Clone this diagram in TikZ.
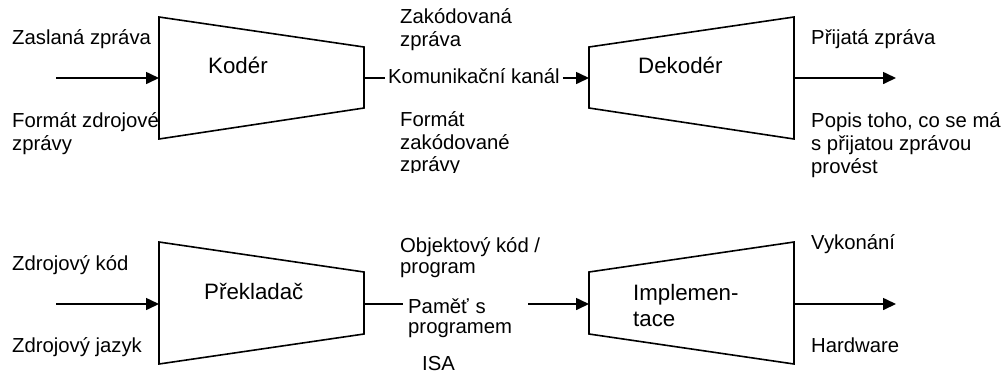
\documentclass[tikz,border=0pt]{standalone}
\usepackage{fontspec}
\setmainfont{Liberation Sans}
\usetikzlibrary{arrows.meta}
\begin{document}
\begin{tikzpicture}[x=1pt,y=-1pt,
  every node/.style={inner sep=0pt,font=\fontsize{20.3}{23}\selectfont},
  lbl/.style={anchor=base west},
  blk/.style={anchor=base west,font=\fontsize{22.3}{27}\selectfont},
  trap/.style={draw=black,line width=1.6pt,line join=miter},
  conn/.style={draw=black,line width=1.6pt},
  arr/.style={conn,-{Triangle[length=13pt,width=12pt]}}]
\useasboundingbox (0,0) rectangle (1003,376);
% ---------- top row ----------
\coordinate (k1) at (159,17); \coordinate (k2) at (364,47);
\coordinate (k3) at (364,108); \coordinate (k4) at (159,139);
\coordinate (kl) at (159,78); \coordinate (kr) at (364,78);
\draw[trap] (k1) -- (k2) -- (k3) -- (k4) -- cycle;
\coordinate (d1) at (589,47); \coordinate (d2) at (794,17);
\coordinate (d3) at (794,139); \coordinate (d4) at (589,108);
\coordinate (dl) at (589,78); \coordinate (dr) at (794,78);
\draw[trap] (d1) -- (d2) -- (d3) -- (d4) -- cycle;
\coordinate (kin) at (56,78); \coordinate (dout) at (896,78);
\node[blk] (koder) at (208,73) {Kodér};
\node[blk] (dekoder) at (638,73) {Dekodér};
\node[lbl] (zasl) at (12,44) {Zaslaná zpráva};
\node[lbl] (fz1) at (12,127) {Formát zdrojové};
\node[lbl] (fz2) at (12,150) {zprávy};
\node[lbl] (zak1) at (400,23) {Zakódovaná};
\node[lbl] (zak2) at (400,46) {zpráva};
\node[anchor=base west,inner xsep=3pt] (kanal) at (385,83) {Komunikační kanál};
\node[lbl] (fk1) at (400,126) {Formát};
\node[lbl] (fk2) at (400,149) {zakódované};
\begin{scope}
\clip (390,150) rectangle (560,172.5);
\node[lbl] (fk3) at (400,171) {zprávy};
\end{scope}
\node[lbl] (prij) at (811,44) {Přijatá zpráva};
\node[lbl] (pop1) at (811,127) {Popis toho, co se má};
\node[lbl] (pop2) at (811,150) {s přijatou zprávou};
\node[lbl] (pop3) at (811,173) {provést};
\draw[arr] (kin) -- (kl);
\draw[conn] (kr) -- (kr -| kanal.west);
\draw[arr] (kanal.east |- dl) -- (dl);
\draw[arr] (dr) -- (dout);
% ---------- bottom row ----------
\coordinate (p1) at (159,242); \coordinate (p2) at (364,272);
\coordinate (p3) at (364,334); \coordinate (p4) at (159,364);
\coordinate (pl) at (159,304); \coordinate (pr) at (364,304);
\draw[trap] (p1) -- (p2) -- (p3) -- (p4) -- cycle;
\coordinate (i1) at (589,272); \coordinate (i2) at (794,242);
\coordinate (i3) at (794,364); \coordinate (i4) at (589,334);
\coordinate (il) at (589,304); \coordinate (ir) at (794,304);
\draw[trap] (i1) -- (i2) -- (i3) -- (i4) -- cycle;
\coordinate (pin) at (56,304); \coordinate (iout) at (896,304);
\node[blk] (prekl) at (204,299) {Překladač};
\node[blk] (impl1) at (633,300) {Implemen-};
\node[blk] (impl2) at (633,326) {tace};
\node[lbl] (zk) at (12,270) {Zdrojový kód};
\node[lbl] (zj) at (12,352) {Zdrojový jazyk};
\node[lbl] (obj1) at (400,252) {Objektový kód /};
\node[lbl] (obj2) at (400,273) {program};
\node[anchor=base west,inner xsep=5pt,text width=115pt,align=left,
      font=\fontsize{20.3}{20}\selectfont] (pamet) at (403,313) {Paměť s\\programem};
\node[lbl] (isa) at (422,370) {ISA};
\node[lbl] (vyk) at (811,249) {Vykonání};
\node[lbl] (hw) at (811,352) {Hardware};
\draw[arr] (pin) -- (pl);
\draw[conn] (pr) -- (pr -| pamet.west);
\draw[arr] (pamet.east |- il) -- (il);
\draw[arr] (ir) -- (iout);
\end{tikzpicture}
\end{document}
